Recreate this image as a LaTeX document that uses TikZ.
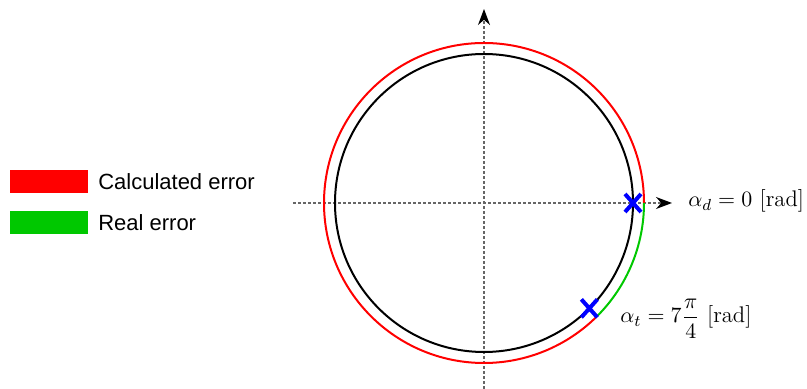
\documentclass[tikz,border=0pt]{standalone}
\usepackage{amsmath}
\usepackage{fontspec}
\newfontfamily\legendfont{Liberation Sans}
\usetikzlibrary{positioning,arrows.meta,shapes.misc}
\definecolor{calccolor}{RGB}{255,0,0}
\definecolor{realcolor}{RGB}{0,200,0}
\definecolor{markcolor}{RGB}{0,0,255}
\tikzset{
  axis line/.style={
    dash pattern=on 1.5pt off 1pt,
    draw=gray!80!black,
    line width=0.7pt
  },
  axis arrow/.style={
    axis line,
    -{Stealth[length=8pt,width=6pt,color=black]}
  },
  unit circle/.style={
    draw=black,
    line width=1pt
  },
  error arc/.style={
    line width=1pt
  },
  target mark/.style={
    cross out,
    draw=markcolor,
    line width=2pt,
    minimum width=6pt,
    minimum height=7pt,
    inner sep=0pt
  },
  legend box/.style={
    rectangle,
    minimum width=39pt,
    minimum height=11.5pt,
    inner sep=0pt
  },
  legend text/.style={
    font=\legendfont\fontsize{11}{13}\selectfont,
    inner sep=0pt
  },
  angle label/.style={
    font=\fontsize{11.3}{13}\selectfont,
    inner sep=0pt,
    anchor=base west
  }
}

\begin{document}
\begin{tikzpicture}[x=0.5pt, y=0.5pt]

  \useasboundingbox (-484,-186) rectangle (323,203);

  % Axes
  \coordinate (o) at (0,0);
  \coordinate (x start) at (-191,0);
  \coordinate (x end) at (188,0);
  \coordinate (y start) at (0,-186);
  \coordinate (y end) at (0,194);
  \draw[axis arrow] (x start) -- (x end);
  \draw[axis arrow] (y start) -- (y end);

  % Circles
  \draw[unit circle] (o) circle[radius=149];
  \draw[error arc, calccolor] (0:160) arc[start angle=0, end angle=315, radius=160];
  \draw[error arc, realcolor] (-45:160) arc[start angle=-45, end angle=0, radius=160];

  % Angle marks
  \node[target mark] (alpha d) at (0:149) {};
  \node[target mark] (alpha t) at (-45:149) {};

  % Angle labels
  \node[angle label] (alpha d label) at (204,-4) {$\alpha_d = 0$ [rad]};
  \node[angle label] (alpha t label) at (136,-120) {$\displaystyle\alpha_t = 7\frac{\pi}{4}$ [rad]};

  % Legend
  \node[legend box, fill=calccolor] (calc box) at (-435,21.5) {};
  \node[legend box, fill=realcolor, below=8.5pt of calc box] (real box) {};
  \node[legend text, right=4.75pt of calc box] (calc text) {Calculated error};
  \node[legend text, right=4.75pt of real box] (real text) {Real error};

\end{tikzpicture}
\end{document}
